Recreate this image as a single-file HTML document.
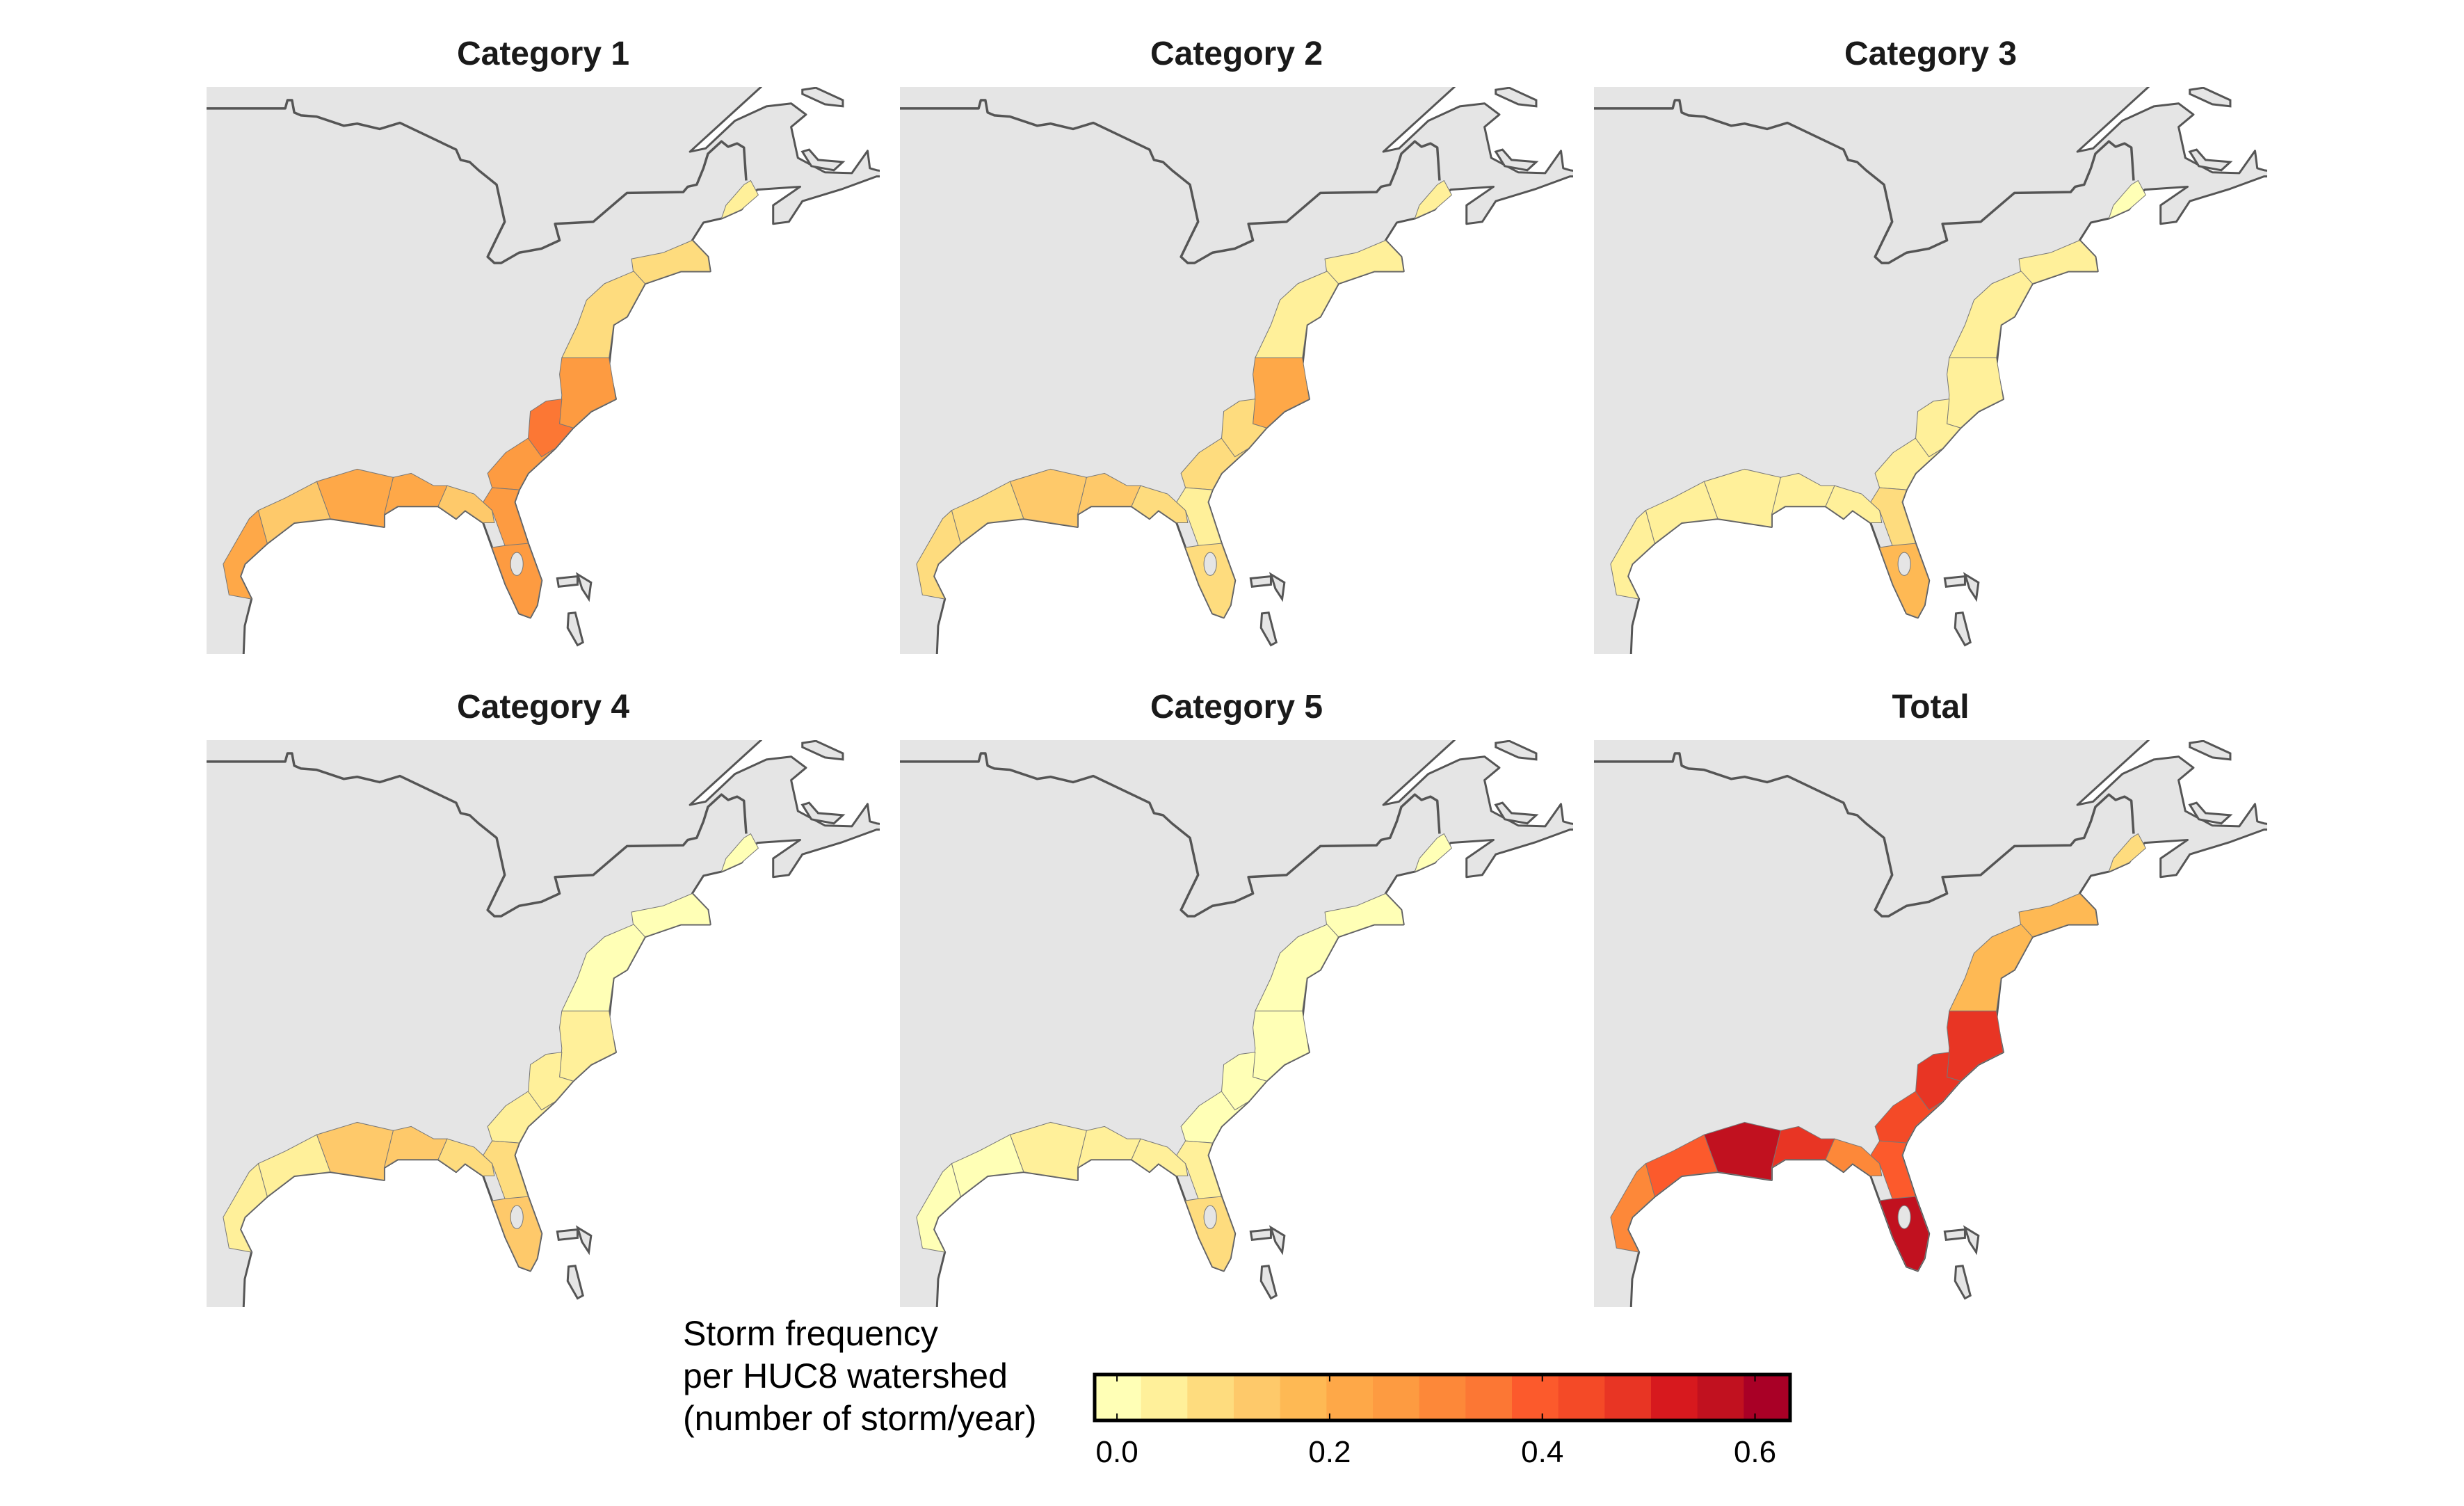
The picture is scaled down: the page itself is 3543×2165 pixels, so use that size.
<!DOCTYPE html>
<html><head><meta charset="utf-8">
<style>
html,body{margin:0;padding:0;background:#fff;}
svg{display:block;font-family:"Liberation Sans",Arial,sans-serif;}
</style></head>
<body>
<svg id="fig" width="3543" height="2165" viewBox="0 0 3543 2165" xmlns="http://www.w3.org/2000/svg">
<rect width="3543" height="2165" fill="#fff"/>
<defs></defs>
</svg>
<script>
// ---- data ----
const panelTitles = ["Category 1","Category 2","Category 3","Category 4","Category 5","Total"];
const regionNames = ["maine","new-england","mid-atlantic","virginia-nc","carolinas","georgia","north-florida","south-florida","florida-panhandle","alabama-mississippi","louisiana","east-texas","south-texas"];
const cat1Values  = [0.05,0.07,0.07,0.27,0.35,0.28,0.25,0.27,0.12,0.20,0.23,0.15,0.22];
const cat2Values  = [0.03,0.05,0.04,0.20,0.10,0.07,0.05,0.10,0.08,0.12,0.13,0.10,0.07];
const cat3Values  = [0.02,0.04,0.03,0.04,0.05,0.06,0.10,0.17,0.05,0.06,0.05,0.05,0.04];
const cat4Values  = [0.01,0.02,0.02,0.03,0.03,0.04,0.10,0.13,0.10,0.14,0.12,0.06,0.04];
const cat5Values  = [0.01,0.01,0.01,0.01,0.01,0.01,0.03,0.07,0.03,0.04,0.04,0.02,0.02];
const totalValues = [0.10,0.17,0.17,0.50,0.48,0.42,0.40,0.58,0.30,0.48,0.55,0.40,0.30];
const seriesValues = [cat1Values,cat2Values,cat3Values,cat4Values,cat5Values,totalValues];
const colorBins = ["#ffffb6","#fff09a","#fedc7e","#fec96a","#feb954","#fea848","#fd9b41","#fd8839","#fc7734","#fc5a2c","#f44a27","#e83524","#d7191e","#c1111f","#a90026"];
const scaleMin = -0.021, scaleMax = 0.633;
const tickValues = [0.0,0.2,0.4,0.6];
const tickLabels = ["0.0","0.2","0.4","0.6"];

// ---- geometry (map outline in source coords) ----
const ocean = [[1258,143],[1100,300],[1135,292],[1200,225],[1270,190],[1325,183],[1358,210],[1325,240],[1340,315],[1400,350],[1460,352],[1495,298],[1500,340],[1515,345],[1560,352],[1560,360],[1515,360],[1440,390],[1350,420],[1320,470],[1285,475],[1285,430],[1345,385],[1250,392],[1240,402],[1215,440],[1170,462],[1130,472],[1105,515],[1140,555],[1145,590],[1080,590],[1000,620],[960,700],[930,720],[920,820],[935,900],[880,930],[840,970],[800,1020],[740,1080],[720,1120],[710,1150],[740,1250],[770,1340],[760,1400],[745,1430],[720,1420],[690,1350],[660,1260],[640,1200],[600,1170],[580,1190],[540,1160],[450,1160],[420,1180],[420,1210],[360,1200],[300,1190],[220,1200],[160,1250],[110,1300],[100,1330],[125,1385],[110,1450],[105,1580],[640,1580],[645,1533],[690,1522],[760,1533],[760,1580],[1580,1580],[1580,110],[1280,110]];
const border = [[20,195],[200,195],[205,175],[215,175],[220,205],[235,212],[270,215],[330,237],[360,232],[410,245],[455,230],[580,295],[590,320],[610,325],[630,345],[670,380],[688,470],[670,510],[650,555],[665,570],[680,570],[720,545],[770,535],[810,515],[800,475],[885,470],[960,400],[1085,398],[1095,385],[1115,380],[1130,340],[1140,305],[1170,275],[1185,288],[1205,280],[1220,290],[1225,370]];
const islands = [
 [[1350,150],[1380,145],[1440,175],[1440,190],[1400,185],[1350,160]],
 [[1350,300],[1365,295],[1385,320],[1440,325],[1420,345],[1370,335]],
 [[805,1335],[850,1330],[850,1350],[808,1355]],
 [[850,1325],[880,1345],[875,1385],[860,1360]],
 [[830,1420],[845,1418],[862,1490],[850,1497],[828,1455]]
];
const regionShapes = [
 [[1170,462],[1180,430],[1220,380],[1235,370],[1252,405],[1215,440]],
 [[1105,515],[1140,555],[1145,590],[1080,590],[1000,620],[975,600],[970,560],[1040,545]],
 [[1000,620],[960,700],[930,720],[920,800],[815,800],[850,720],[870,660],[910,620],[975,590]],
 [[920,800],[935,900],[880,930],[840,970],[810,960],[815,890],[810,840],[815,800]],
 [[840,970],[800,1020],[770,1040],[740,1000],[745,930],[780,905],[815,900],[810,960]],
 [[800,1020],[740,1080],[720,1120],[660,1115],[650,1080],[690,1030],[740,995],[770,1040]],
 [[720,1120],[710,1150],[740,1250],[690,1260],[660,1170],[640,1150],[660,1115]],
 [[740,1250],[770,1340],[760,1400],[745,1430],[720,1420],[690,1350],[660,1260],[690,1255]],
 [[640,1200],[600,1170],[580,1190],[540,1160],[560,1110],[620,1130],[640,1150],[660,1170],[665,1200]],
 [[540,1160],[450,1160],[420,1180],[440,1090],[480,1080],[530,1110],[560,1110]],
 [[420,1180],[420,1210],[360,1200],[300,1190],[270,1100],[360,1070],[440,1090]],
 [[300,1190],[220,1200],[160,1250],[140,1170],[200,1140],[270,1100]],
 [[160,1250],[110,1300],[100,1330],[125,1385],[75,1375],[62,1300],[120,1190],[140,1170]]
];
const panelX = [297,1294,2292], panelY = [125,1064], PW = 968, PH = 815;
const SX = 1.537*974/968, SY = 1.683*817/815;

const NS = "http://www.w3.org/2000/svg";
const svg = document.getElementById('fig');
const defs = svg.querySelector('defs');
function mk(tag, attrs, parent){const e=document.createElementNS(NS,tag);for(const k in attrs)e.setAttribute(k,attrs[k]);(parent||svg).appendChild(e);return e;}
function pts(a){return a.map(p=>p[0]+','+p[1]).join(' ');}
function colorFor(v){const w=(scaleMax-scaleMin)/colorBins.length;let i=Math.floor((v-scaleMin)/w);i=Math.max(0,Math.min(colorBins.length-1,i));return colorBins[i];}

panelTitles.forEach((t,pi)=>{
  const col=pi%3,row=Math.floor(pi/3);
  const x0=panelX[col],y0=panelY[row];
  const cp=mk('clipPath',{id:'clip'+pi},defs);
  mk('rect',{x:x0,y:y0,width:PW,height:PH},cp);
  const g=mk('g',{'clip-path':'url(#clip'+pi+')'});
  
  
  const land=mk('rect',{x:x0,y:y0,width:PW,height:PH,fill:'#e5e5e5'},g);
  
  
  const inner=mk('g',{transform:`translate(${x0},${y0}) scale(${1/SX},${1/SY}) translate(-25,-143)`},g);
  const oc=mk('polygon',{points:pts(ocean),fill:'#fff',stroke:'#555','stroke-width':3,'vector-effect':'non-scaling-stroke','stroke-linejoin':'round'},inner);
  
  
  const bd=mk('polyline',{points:pts(border),fill:'none',stroke:'#555','stroke-width':3.5,'vector-effect':'non-scaling-stroke','stroke-linejoin':'round'},inner);
  
  
  islands.forEach(isl=>{
    const p=mk('polygon',{points:pts(isl),fill:'#e5e5e5',stroke:'#555','stroke-width':3,'vector-effect':'non-scaling-stroke'},inner);
    
    
  });
  const vals=seriesValues[pi];
  regionShapes.forEach((shp,ri)=>{
    const p=mk('polygon',{points:pts(shp),fill:colorFor(vals[ri]),stroke:'#777','stroke-width':1,'vector-effect':'non-scaling-stroke'},inner);
    
    
  });
  const lk=mk('ellipse',{cx:715,cy:1300,rx:14,ry:28,fill:'#e5e5e5',stroke:'#777','stroke-width':1,'vector-effect':'non-scaling-stroke'},inner);
  
  
  const tt=mk('text',{x:x0+PW/2,y:y0-32,'text-anchor':'middle','font-size':48,'font-weight':'bold',fill:'#1a1a1a'});
  tt.textContent=t;
  
  
});

// ---- legend ----
const CBX0=1574,CBX1=2574,CBY0=1976,CBY1=2042;
function xScale(v){return CBX0+(v-scaleMin)/(scaleMax-scaleMin)*(CBX1-CBX0);}
const lg=mk('g',{});


const bw=(CBX1-CBX0)/colorBins.length;
colorBins.forEach((c,i)=>{
  const r=mk('rect',{x:CBX0+i*bw,y:CBY0,width:bw+0.5,height:CBY1-CBY0,fill:c},lg);
  
  
});
tickValues.forEach((v,i)=>{
  const x=xScale(v);
  mk('line',{x1:x,x2:x,y1:CBY0,y2:CBY0+10,stroke:'#000','stroke-width':2},lg);
  mk('line',{x1:x,x2:x,y1:CBY1-10,y2:CBY1,stroke:'#000','stroke-width':2},lg);
  const t=mk('text',{x:x,y:2102,'text-anchor':'middle','font-size':44,fill:'#000'},lg);
  t.textContent=tickLabels[i];
  
  
});
const frame=mk('rect',{x:CBX0,y:CBY0,width:CBX1-CBX0,height:CBY1-CBY0,fill:'none',stroke:'#000','stroke-width':5},lg);


["Storm frequency","per HUC8 watershed","(number of storm/year)"].forEach((s,i)=>{
  const t=mk('text',{x:982,y:1934+i*61,'font-size':50,fill:'#000'},lg);
  t.textContent=s;
  
  
});
</script>
</body></html>
